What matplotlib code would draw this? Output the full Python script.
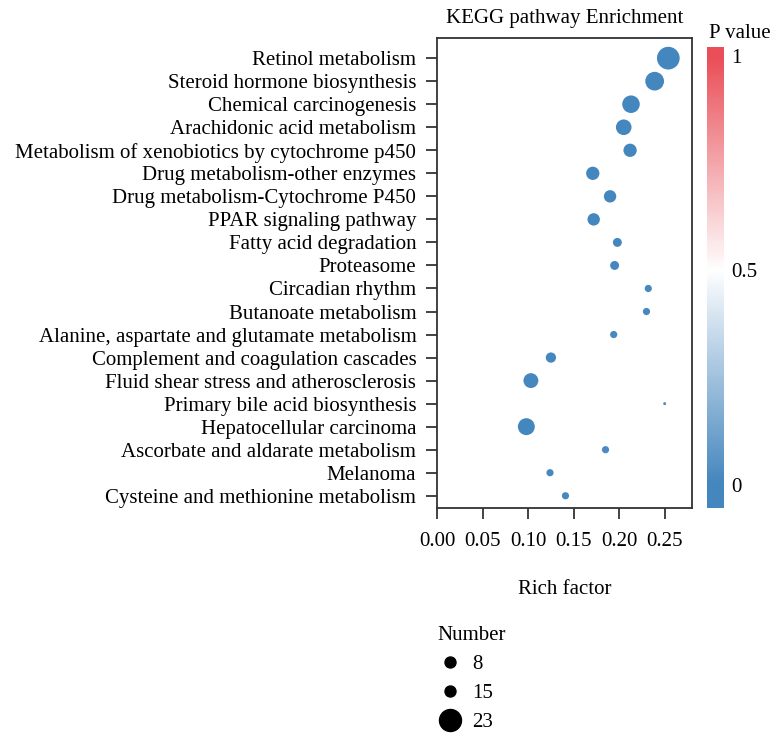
import numpy as np
import matplotlib
matplotlib.use("Agg")
import matplotlib.pyplot as plt
from matplotlib.colors import LinearSegmentedColormap, Normalize
from matplotlib.lines import Line2D

plt.rcParams['font.family'] = ['Liberation Serif', 'DejaVu Serif']

# pathways, top to bottom as in the figure
pathways = [
    "Retinol metabolism",
    "Steroid hormone biosynthesis",
    "Chemical carcinogenesis",
    "Arachidonic acid metabolism",
    "Metabolism of xenobiotics by cytochrome p450",
    "Drug metabolism-other enzymes",
    "Drug metabolism-Cytochrome P450",
    "PPAR signaling pathway",
    "Fatty acid degradation",
    "Proteasome",
    "Circadian rhythm",
    "Butanoate metabolism",
    "Alanine, aspartate and glutamate metabolism",
    "Complement and coagulation cascades",
    "Fluid shear stress and atherosclerosis",
    "Primary bile acid biosynthesis",
    "Hepatocellular carcinoma",
    "Ascorbate and aldarate metabolism",
    "Melanoma",
    "Cysteine and methionine metabolism",
]
rich_factor = [0.254, 0.239, 0.213, 0.205, 0.212, 0.171, 0.190, 0.172, 0.198, 0.195,
               0.232, 0.230, 0.194, 0.125, 0.103, 0.250, 0.098, 0.185, 0.124, 0.141]
number = [23, 15, 13, 10, 7, 7, 6, 6, 3, 3,
          2, 2, 2, 4, 9, 1, 12, 2, 2, 2]
pvalue = [1e-8, 1e-6, 1e-5, 1e-5, 1e-4, 1e-3, 1e-3, 1e-3, 0.002, 0.003,
          0.01, 0.01, 0.01, 0.005, 0.004, 0.02, 0.001, 0.02, 0.01, 0.01]

legend_numbers = [8, 15, 23]
legend_px = [11, 11, 22]   # marker diameters as drawn in the key

FS = 15
cmap = LinearSegmentedColormap.from_list("pv", ["#3a80bb", "#ffffff", "#e9444e"])
norm = Normalize(0, 1)


def diam_px(n):
    # ggplot-like area scale: diameter grows with sqrt of rescaled count
    n = np.asarray(n, dtype=float)
    return 3 + 19.7 * np.sqrt((n - 1) / 22)


fig = plt.figure(figsize=(7.71, 7.33), dpi=100)
ax = fig.add_axes([0.567, 0.307, 0.3305, 0.641])

y = np.arange(len(pathways))[::-1]
sizes = (diam_px(number) * 0.72) ** 2
ax.scatter(rich_factor, y, s=sizes, c=pvalue, cmap=cmap, norm=norm,
           alpha=0.95, linewidths=0, zorder=3)

ax.set_yticks(y)
ax.set_yticklabels(pathways, fontsize=FS)
ax.set_ylim(-0.53, len(pathways) - 1 + 0.87)
ax.set_xlim(0, 0.28)
ax.set_xticks([0.0, 0.05, 0.10, 0.15, 0.20, 0.25])
ax.set_xticklabels(["0.00", "0.05", "0.10", "0.15", "0.20", "0.25"], fontsize=FS)
ax.tick_params(length=8, width=1.2, color="#222222")
ax.tick_params(axis="y", pad=7)
ax.tick_params(axis="x", pad=9)
for sp in ax.spines.values():
    sp.set_color("#333333")
    sp.set_linewidth(1.3)
ax.set_title("KEGG pathway Enrichment", fontsize=FS, pad=11)
ax.set_xlabel("Rich factor", fontsize=FS, labelpad=21)

# colour bar
cax = fig.add_axes([0.917, 0.307, 0.021, 0.629])
grad = np.linspace(-0.053, 1.02, 256).reshape(-1, 1)
cax.imshow(grad, aspect="auto", cmap=cmap, norm=norm, origin="lower",
           extent=[0, 1, -0.053, 1.02], alpha=0.95)
cax.set_xticks([])
cax.yaxis.tick_right()
cax.set_yticks([0, 0.5, 1])
cax.set_yticklabels(["0", "0.5", "1"], fontsize=FS)
cax.tick_params(length=0, pad=6)
for sp in cax.spines.values():
    sp.set_visible(False)
fig.text(0.919, 0.954, "P value", fontsize=FS, ha="left", va="center")

# size key
handles = [Line2D([], [], ls="none", marker="o", color="black",
                  markersize=d * 0.72) for d in legend_px]
leg = fig.legend(handles, [str(v) for v in legend_numbers], title="Number",
                 loc="upper left", bbox_to_anchor=(0.567, 0.146), frameon=False,
                 fontsize=FS, title_fontsize=FS, handletextpad=0.48,
                 labelspacing=0.45, borderpad=0, borderaxespad=0, handlelength=1.2)
leg._legend_box.align = "left"

fig.savefig("out.png", dpi=100)
